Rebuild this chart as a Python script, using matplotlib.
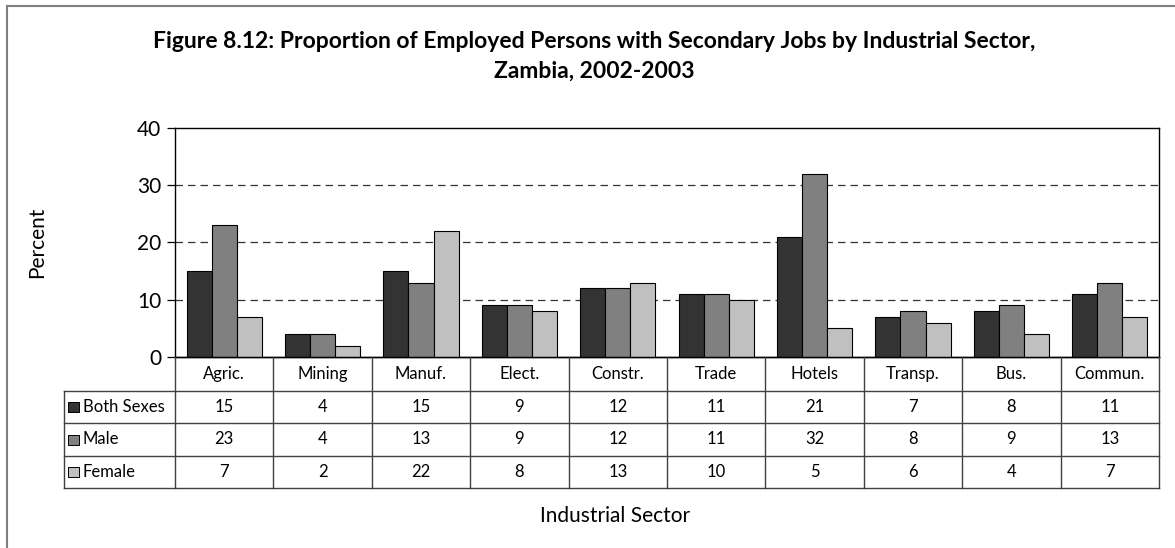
import matplotlib
matplotlib.use("Agg")
import matplotlib.pyplot as plt
from matplotlib.patches import Rectangle
from matplotlib.lines import Line2D
import numpy as np

plt.rcParams['font.family'] = ['Lato', 'DejaVu Sans']

categories = ["Agric.", "Mining", "Manuf.", "Elect.", "Constr.", "Trade", "Hotels", "Transp.", "Bus.", "Commun."]
series_names = ["Both Sexes", "Male", "Female"]
both_sexes = [15, 4, 15, 9, 12, 11, 21, 7, 8, 11]
male = [23, 4, 13, 9, 12, 11, 32, 8, 9, 13]
female = [7, 2, 22, 8, 13, 10, 5, 6, 4, 7]
colors = ["#333333", "#808080", "#c0c0c0"]

W, H = 1175, 548
fig = plt.figure(figsize=(W / 100, H / 100), dpi=100)

def fx(px):
    return px / W

def fy(py):
    return 1 - py / H

# outer border (top and left)
fig.add_artist(Line2D([fx(7), 1], [fy(6), fy(6)], color="#808080", lw=1.5))
fig.add_artist(Line2D([fx(7), fx(7)], [fy(6), 0], color="#808080", lw=1.5))

ax_l, ax_r, ax_t, ax_b = 175, 1159, 128, 357
ax = fig.add_axes([fx(ax_l), fy(ax_b), fx(ax_r - ax_l), (ax_b - ax_t) / H])

x = np.arange(len(categories))
bw = 0.255
for k, vals in enumerate([both_sexes, male, female]):
    ax.bar(x + (k - 1) * bw, vals, width=bw, color=colors[k], edgecolor="black", linewidth=0.8, zorder=3)

ax.set_xlim(-0.5, len(categories) - 0.5)
ax.set_ylim(0, 40)
ax.set_yticks([0, 10, 20, 30, 40])
ax.set_xticks([])
for yv in [10, 20, 30]:
    ax.axhline(yv, color="#333333", lw=0.9, ls=(0, (6, 4)), zorder=1)
for s in ax.spines.values():
    s.set_linewidth(1.0)
    s.set_color("black")
ax.tick_params(axis='y', direction='out', length=6, width=0.9, labelsize=15, pad=4)

# table
unit_px = (ax_r - ax_l) / len(categories)
tab_l = 64
tab_b = 488
ax_t2 = fig.add_axes([fx(tab_l), fy(tab_b), fx(ax_r - tab_l), (tab_b - ax_b) / H])
left_data = -0.5 - (ax_l - tab_l) / unit_px
ax_t2.set_xlim(left_data, len(categories) - 0.5)
ax_t2.set_ylim(tab_b - ax_b, 0)
ax_t2.axis("off")
rows = [0, 34, 66, 99, 131]
lc = "#404040"
ax_t2.plot([-0.5, len(categories) - 0.5], [0, 0], color="black", lw=1.0, clip_on=False)
for r in rows[1:]:
    ax_t2.plot([left_data, len(categories) - 0.5], [r, r], color=lc, lw=1.0, clip_on=False)
for i in range(len(categories) + 1):
    ax_t2.plot([i - 0.5, i - 0.5], [0, rows[-1]], color=lc, lw=1.0, clip_on=False)
ax_t2.plot([left_data, left_data], [rows[1], rows[-1]], color=lc, lw=1.0, clip_on=False)

for i, c in enumerate(categories):
    ax_t2.text(i, (rows[0] + rows[1]) / 2, c, ha="center", va="center", fontsize=12)
sq = 11 / unit_px
for k, (name, vals) in enumerate(zip(series_names, [both_sexes, male, female])):
    yc = (rows[k + 1] + rows[k + 2]) / 2
    ax_t2.add_patch(Rectangle((left_data + 4 / unit_px, yc - 5), sq, 10, facecolor=colors[k],
                              edgecolor="black", lw=0.7, clip_on=False))
    ax_t2.text(left_data + 19 / unit_px, yc, name, ha="left", va="center", fontsize=12)
    for i, v in enumerate(vals):
        ax_t2.text(i, yc, str(v), ha="center", va="center", fontsize=12)

fig.text(fx(594), fy(42), "Figure 8.12: Proportion of Employed Persons with Secondary Jobs by Industrial Sector,",
         ha="center", va="center", fontsize=16.5, fontweight="bold")
fig.text(fx(594), fy(71), "Zambia, 2002-2003", ha="center", va="center", fontsize=16.5, fontweight="bold")
fig.text(fx(37), fy(242), "Percent", ha="center", va="center", rotation=90, fontsize=15)
fig.text(fx(615), fy(516), "Industrial Sector", ha="center", va="center", fontsize=15)

fig.savefig("out.png", dpi=100)
